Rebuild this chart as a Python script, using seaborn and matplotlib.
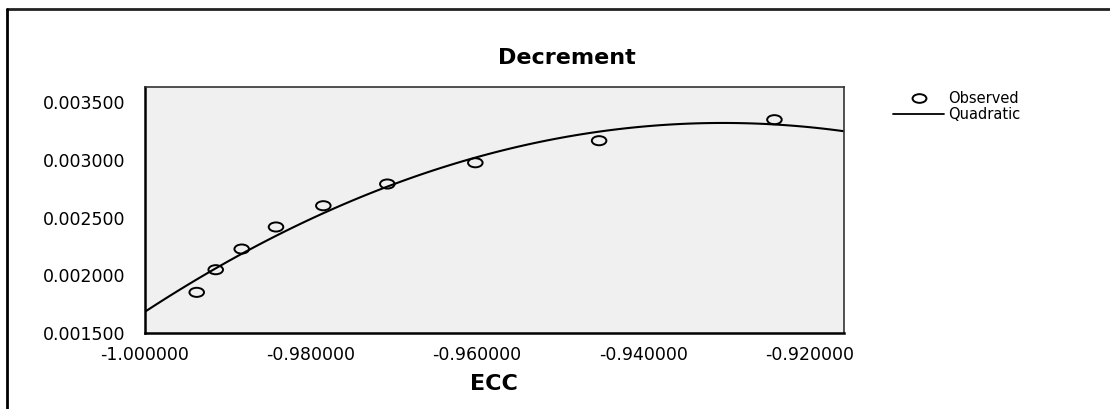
# Decrement vs ECC - observed points with quadratic fit (SPSS style curve estimation)
import numpy as np
import pandas as pd
import matplotlib
matplotlib.use('Agg')
import matplotlib.pyplot as plt
from matplotlib.path import Path
from matplotlib.transforms import Affine2D
from matplotlib.lines import Line2D
import seaborn as sns

sns.set_style("white")
plt.rcParams['font.family'] = ['DejaVu Sans']
plt.rcParams['text.color'] = 'black'
plt.rcParams['xtick.color'] = 'black'
plt.rcParams['ytick.color'] = 'black'
plt.rcParams['axes.labelcolor'] = 'black'

ecc = [-0.99377, -0.99148, -0.98835, -0.98422, -0.97852,
       -0.97081, -0.96021, -0.94530, -0.92418]
decrement = [0.001852, 0.002048, 0.002227, 0.002418, 0.002602,
             0.002790, 0.002974, 0.003165, 0.003347]

x_ticks = [-1.00, -0.98, -0.96, -0.94, -0.92]
y_ticks = [0.0015, 0.0020, 0.0025, 0.0030, 0.0035]

df = pd.DataFrame({'ECC': ecc, 'Decrement': decrement})

# wide ellipse marker (the original image is stretched horizontally)
ring = Path.unit_circle().transformed(Affine2D().scale(1.6, 1.0))

fig = plt.figure(figsize=(11.1, 4.09), dpi=100)
ax = fig.add_axes([145 / 1110, 1 - 333 / 409, 699 / 1110, 246 / 409])
ax.set_facecolor('#F0F0F0')

ax.set_xlim(-1.0, -0.9158)
ax.set_ylim(0.0015, 0.00363)

# quadratic fit line across full x range
sns.regplot(data=df, x='ECC', y='Decrement', order=2, ci=None,
            scatter=False, truncate=False, ax=ax,
            line_kws={'color': 'black', 'linewidth': 1.5})

sns.scatterplot(data=df, x='ECC', y='Decrement', ax=ax, marker=ring,
                s=110, facecolor='none', edgecolor='black', linewidth=1.4,
                zorder=3)

ax.set_xlim(-1.0, -0.9158)
ax.set_ylim(0.0015, 0.00363)

ax.set_xticks(x_ticks)
ax.set_yticks(y_ticks)
ax.set_xticklabels([f'{v:.6f}' for v in x_ticks], fontsize=12.5)
ax.set_yticklabels([f'{v:.6f}' for v in y_ticks], fontsize=12.5)
ax.tick_params(axis='x', direction='out', length=7, width=2.2, pad=2, color='black')
ax.tick_params(axis='y', direction='out', length=13, width=1.4, pad=1, color='black')

ax.set_xlabel('')
ax.set_ylabel('')
for side in ['left', 'bottom']:
    ax.spines[side].set_color('black')
    ax.spines[side].set_linewidth(1.8)
for side in ['top', 'right']:
    ax.spines[side].set_color('#333333')
    ax.spines[side].set_linewidth(1.2)

fig.text(567 / 1110, 1 - 58 / 409, 'Decrement', ha='center', va='center',
         fontsize=16, fontweight='bold')
fig.text(494 / 1110, 1 - 384 / 409, 'ECC', ha='center', va='center',
         fontsize=16, fontweight='bold')

# legend outside the plot area
handles = [Line2D([], [], linestyle='none', marker=ring, markersize=10,
                  markerfacecolor='none', markeredgecolor='black',
                  markeredgewidth=1.4, label='Observed'),
           Line2D([], [], color='black', linewidth=1.3, label='Quadratic')]
ax.legend(handles=handles, loc='upper left', bbox_to_anchor=(893 / 1110, 1 - 91 / 409),
          bbox_transform=fig.transFigure, frameon=False, fontsize=10.5,
          handlelength=3.5, handletextpad=0.3, labelspacing=0.05,
          borderpad=0, borderaxespad=0)

# outer frame (top and left edges)
fig.add_artist(Line2D([7 / 1110, 1.0], [1 - 9 / 409, 1 - 9 / 409],
                      transform=fig.transFigure, color='#222222', linewidth=2.0))
fig.add_artist(Line2D([7 / 1110, 7 / 1110], [1 - 9 / 409, 0.0],
                      transform=fig.transFigure, color='black', linewidth=2.0))

fig.savefig('out.png', dpi=100)
